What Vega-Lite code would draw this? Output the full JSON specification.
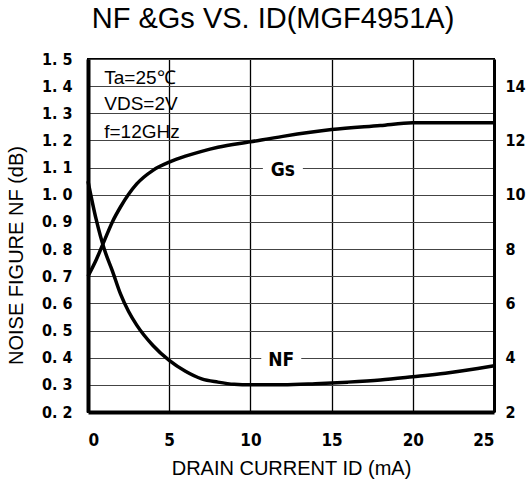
{
  "$schema": "https://vega.github.io/schema/vega-lite/v6.json",
  "width": 406,
  "height": 353,
  "autosize": {"type": "none"},
  "padding": {"left": 88, "top": 59, "right": 37, "bottom": 74},
  "background": "white",
  "config": {"view": {"stroke": "black", "strokeWidth": 2}},
  "title": {
    "text": "NF &Gs VS. ID(MGF4951A)",
    "font": "Liberation Sans",
    "fontSize": 29,
    "fontWeight": "normal",
    "color": "black",
    "anchor": "middle",
    "dx": -18,
    "offset": 17
  },
  "datasets": {
    "curves": [
      {"series": "NF", "id": 0, "value": 1.05},
      {"series": "NF", "id": 0.5, "value": 0.91},
      {"series": "NF", "id": 1, "value": 0.8},
      {"series": "NF", "id": 1.5, "value": 0.72},
      {"series": "NF", "id": 2, "value": 0.635},
      {"series": "NF", "id": 2.5, "value": 0.57},
      {"series": "NF", "id": 3, "value": 0.52},
      {"series": "NF", "id": 4, "value": 0.445},
      {"series": "NF", "id": 5, "value": 0.39},
      {"series": "NF", "id": 6, "value": 0.35},
      {"series": "NF", "id": 7, "value": 0.322},
      {"series": "NF", "id": 8, "value": 0.31},
      {"series": "NF", "id": 9, "value": 0.302},
      {"series": "NF", "id": 10, "value": 0.3},
      {"series": "NF", "id": 12, "value": 0.3},
      {"series": "NF", "id": 14, "value": 0.304},
      {"series": "NF", "id": 16, "value": 0.31},
      {"series": "NF", "id": 18, "value": 0.318},
      {"series": "NF", "id": 20, "value": 0.33},
      {"series": "NF", "id": 22, "value": 0.343},
      {"series": "NF", "id": 24, "value": 0.36},
      {"series": "NF", "id": 25, "value": 0.37},
      {"series": "Gs", "id": 0, "value": 7.0},
      {"series": "Gs", "id": 0.5, "value": 7.6},
      {"series": "Gs", "id": 1, "value": 8.3},
      {"series": "Gs", "id": 1.5, "value": 9.0},
      {"series": "Gs", "id": 2, "value": 9.55},
      {"series": "Gs", "id": 3, "value": 10.4},
      {"series": "Gs", "id": 4, "value": 10.9},
      {"series": "Gs", "id": 5, "value": 11.2},
      {"series": "Gs", "id": 6, "value": 11.42},
      {"series": "Gs", "id": 7, "value": 11.6},
      {"series": "Gs", "id": 8, "value": 11.75},
      {"series": "Gs", "id": 10, "value": 11.95},
      {"series": "Gs", "id": 12, "value": 12.15},
      {"series": "Gs", "id": 15, "value": 12.4},
      {"series": "Gs", "id": 18, "value": 12.55},
      {"series": "Gs", "id": 20, "value": 12.65},
      {"series": "Gs", "id": 25, "value": 12.65}
    ],
    "conditions": [
      {"label": "Ta=25℃", "id": 1.0, "value": 1.43},
      {"label": "VDS=2V", "id": 1.0, "value": 1.335},
      {"label": "f=12GHz", "id": 1.0, "value": 1.232}
    ],
    "curvelabels": [
      {"label": "Gs", "id": 12.0, "value": 1.1},
      {"label": "NF", "id": 11.9, "value": 0.4}
    ]
  },
  "encoding": {
    "x": {
      "field": "id", "type": "quantitative",
      "scale": {"domain": [0, 25], "nice": false},
      "axis": {
        "values": [0, 5, 10, 15, 20, 25],
        "format": "d",
        "grid": true, "gridColor": "black", "gridWidth": 1.3,
        "domainColor": "black", "domainWidth": 4,
        "ticks": false,
        "labelFont": "DejaVu Sans Condensed", "labelFontWeight": "bold", "labelFontSize": 17,
        "labelColor": "black", "labelPadding": 20,
        "title": "DRAIN CURRENT ID  (mA)",
        "titleFont": "Liberation Sans", "titleFontSize": 20, "titleFontWeight": "normal",
        "titleColor": "black", "titleX": 203, "titleY": 56, "titleBaseline": "middle"
      }
    }
  },
  "layer": [
    {
      "encoding": {
        "y": {
          "field": "value", "type": "quantitative",
          "scale": {"domain": [0.2, 1.5], "nice": false, "zero": false},
          "axis": {
            "orient": "left",
            "values": [0.2, 0.3, 0.4, 0.5, 0.6, 0.7, 0.8, 0.9, 1.0, 1.1, 1.2, 1.3, 1.4, 1.5],
            "labelExpr": "replace(format(datum.value, '.1f'), '.', '. ')",
            "grid": true, "gridColor": "#444", "gridWidth": 1,
            "domainColor": "black", "domainWidth": 4,
            "ticks": false, "labelOverlap": false, "labelBound": false,
            "labelFont": "DejaVu Sans Condensed", "labelFontWeight": "bold", "labelFontSize": 16,
            "labelColor": "black", "labelPadding": 16,
            "title": "NOISE FIGURE NF  (dB)",
            "titleFont": "Liberation Sans", "titleFontSize": 20, "titleFontWeight": "normal",
            "titleColor": "black", "titleX": -72, "titleY": 196, "titleAngle": 270,
            "titleBaseline": "middle", "titleAlign": "center"
          }
        }
      },
      "layer": [
        {
          "data": {"name": "curves"},
          "transform": [{"filter": "datum.series === 'NF'"}],
          "mark": {"type": "line", "color": "black", "strokeWidth": 3.5, "interpolate": "monotone"}
        },
        {
          "data": {"name": "curvelabels"},
          "mark": {"type": "point", "filled": true, "color": "white", "opacity": 1, "size": 1600,
                   "shape": "M-1,-0.3H1V0.3H-1Z"}
        },
        {
          "data": {"name": "curvelabels"},
          "mark": {"type": "text", "font": "DejaVu Sans Condensed", "fontWeight": "bold", "fontSize": 19,
                   "color": "black", "baseline": "middle", "dy": 2},
          "encoding": {"text": {"field": "label"}}
        },
        {
          "data": {"name": "conditions"},
          "mark": {"type": "text", "font": "Liberation Sans", "fontSize": 19,
                   "color": "black", "baseline": "middle", "align": "left"},
          "encoding": {"text": {"field": "label"}}
        }
      ]
    },
    {
      "data": {"name": "curves"},
      "transform": [{"filter": "datum.series === 'Gs'"}],
      "mark": {"type": "line", "color": "black", "strokeWidth": 3.5, "interpolate": "monotone"},
      "encoding": {
        "y": {
          "field": "value", "type": "quantitative",
          "scale": {"domain": [2, 15], "nice": false, "zero": false},
          "axis": {
            "orient": "right",
            "values": [2, 4, 6, 8, 10, 12, 14],
            "grid": false,
            "domainColor": "black", "domainWidth": 3,
            "ticks": false, "labelOverlap": false, "labelBound": false,
            "labelFont": "DejaVu Sans Condensed", "labelFontWeight": "bold", "labelFontSize": 16,
            "labelColor": "black", "labelPadding": 11,
            "title": null
          }
        }
      }
    }
  ],
  "resolve": {"scale": {"y": "independent"}}
}
